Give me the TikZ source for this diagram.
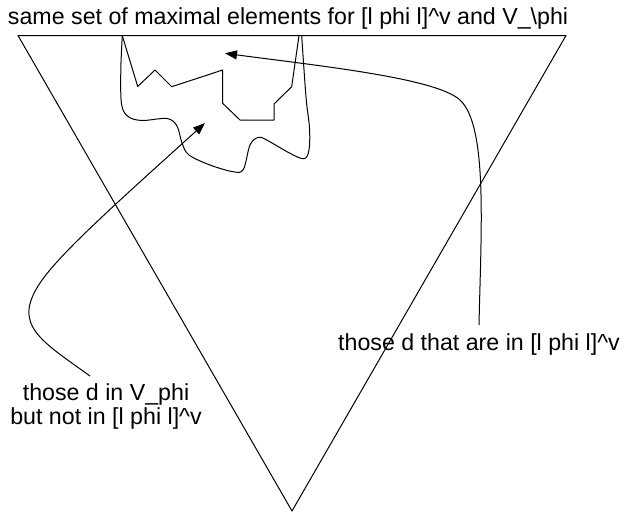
\documentclass[tikz,border=0pt]{standalone}
\usepackage{fontspec}
\setmainfont{Liberation Sans}
\usetikzlibrary{arrows.meta}
\begin{document}
\begin{tikzpicture}[x=1pt,y=-1pt,
  lbl/.style={font=\fontsize{23.2}{24}\selectfont, inner sep=0pt, outer sep=0pt},
  shape line/.style={line width=1pt, line join=round},
  arr/.style={line width=1pt, -{Triangle[length=12pt,width=9pt]}}]
\useasboundingbox (0,0) rectangle (628,512);
% triangle
\draw[shape line] (18,35.5) -- (566,35.5) -- (292,511) -- cycle;
% inner polyline
\draw[shape line] (122.3,35.7) -- (137.7,86.5) -- (155,70) -- (171.7,86.7) -- (222.7,70)
  -- (222.7,103.3) -- (240,120) -- (274,120) -- (274,104) -- (291.7,86.7) -- (299,35.7);
% outer wavy region
\draw[shape line] plot[smooth, tension=0.55] coordinates {(122.3,35.7) (120.8,70) (121.5,104)
  (128,116.5) (142,120.5) (167,118.5) (177,126) (182,143) (189,155) (210,165)
  (233,171.7) (243.3,169.5) (250,145) (258.3,137.3) (266.7,140) (290,153.3)
  (304,158.7) (309,150) (309.5,128) (306,97) (301.7,35.7)};
% labels
\node[lbl, anchor=base west] (title) at (8,24)
  {same set of maximal elements for [l phi l]\textasciicircum v and V\textunderscore\textbackslash phi};
\node[lbl, anchor=base] (rlabel) at (479,350)
  {those d that are in [l phi l]\textasciicircum v};
\node[lbl, anchor=north, align=center] (llabel) at (106,384)
  {those d in V\textunderscore phi\\but not in [l phi l]\textasciicircum v};
% arrow targets
\coordinate (t1) at (225,53.3);
\coordinate (t2) at (205,123);
% arrows
\draw[arr] ([yshift=8pt]rlabel.north) .. controls (481,230) and (488,126) .. (460,100)
  .. controls (436,78) and (320,66) .. (t1);
\draw[arr] ([xshift=-16pt,yshift=8pt]llabel.north) .. controls (40,340) and (12,325) .. (40,283)
  .. controls (60,253) and (120,200) .. (t2);
\end{tikzpicture}
\end{document}
